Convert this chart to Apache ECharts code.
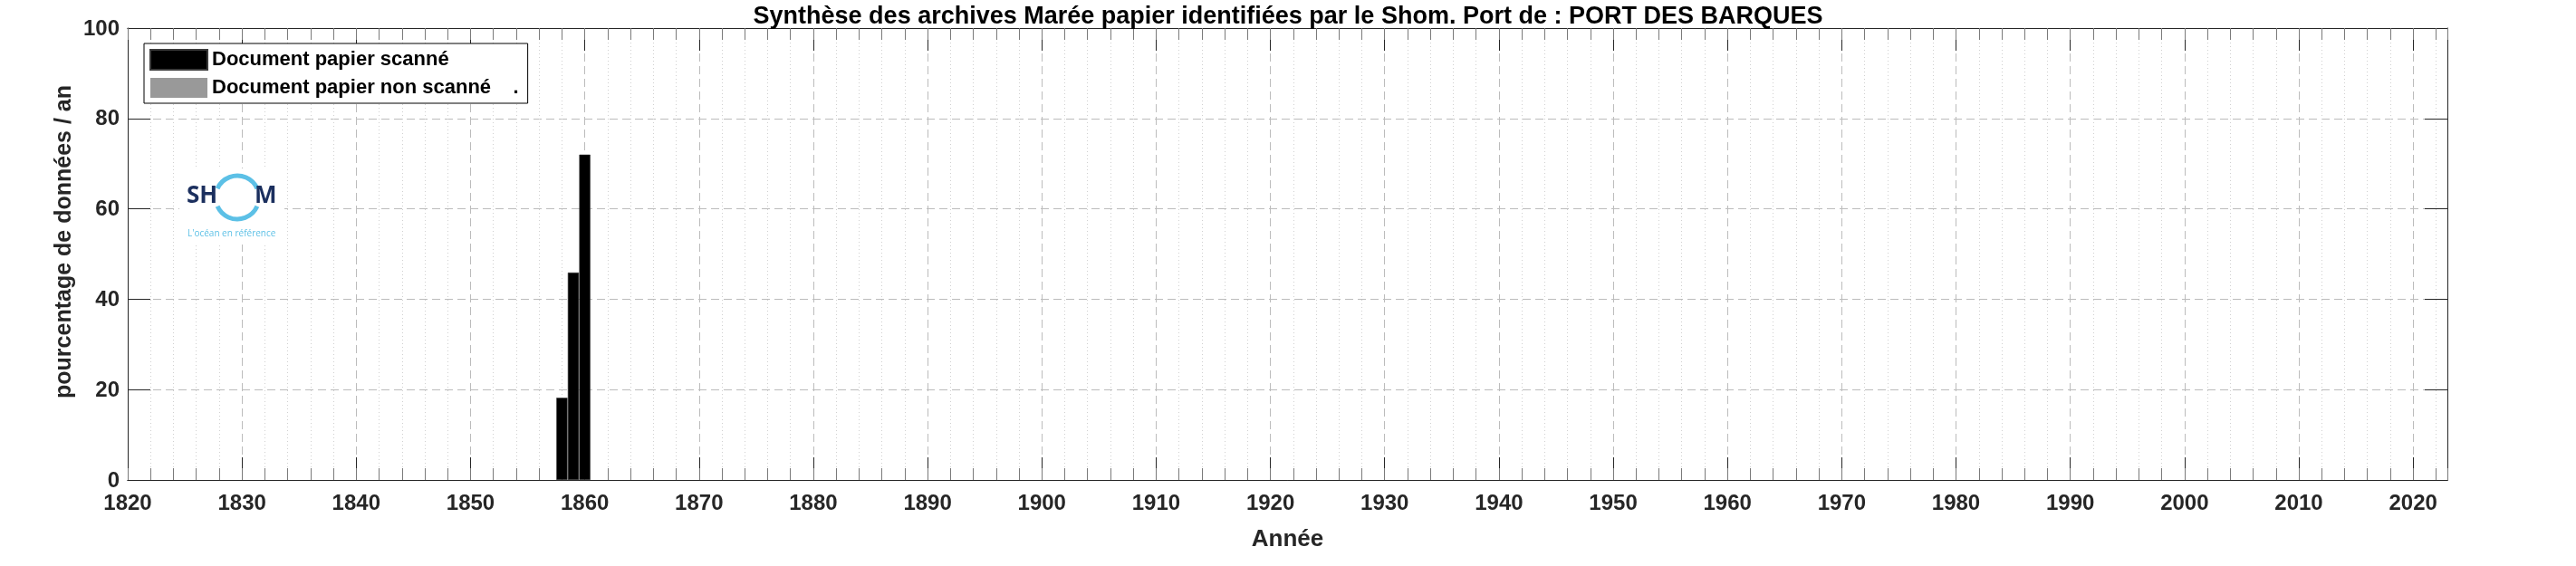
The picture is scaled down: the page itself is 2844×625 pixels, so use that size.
<!DOCTYPE html>
<html>
<head>
<meta charset="utf-8">
<script src="https://cdn.jsdelivr.net/npm/echarts@6/dist/echarts.min.js"></script>
<style>
html,body{margin:0;padding:0;background:#fff;}
#chart{width:2844px;height:625px;}
</style>
</head>
<body>
<div id="chart"></div>
<script>
// ---- data ----
const titleText = 'Synthèse des archives Marée papier identifiées par le Shom. Port de : PORT DES BARQUES';
const seriesNames = ['Document papier scanné', 'Document papier non scanné    .'];
const years = [1858, 1859, 1860];
const scanned = [18.2, 45.9, 72.0];
const nonScannedYears = [];
const nonScanned = [];
const xRange = [1820, 2023];
const yRange = [0, 100];
const yTickLabels = [0, 20, 40, 60, 80, 100];
const xLabelStep = 10;
const xMinorStep = 2;
const yStep = 20;
const xName = 'Année';
const yName = 'pourcentage de données / an';

const chart = echarts.init(document.getElementById('chart'), null, {renderer: 'canvas'});
const FONT = 'Liberation Sans, Arial, sans-serif';
const TXT = '#262626';

function xAxisBase(pos, step, major, showLabel, split) {
  return {
    type: 'value', position: pos, min: xRange[0], max: xRange[1], interval: step,
    axisLine: {show: true, onZero: false, lineStyle: {color: TXT, width: 1}},
    axisTick: {show: true, inside: true, length: major ? 25 : 13,
      lineStyle: {color: major ? TXT : '#7a7a7a', width: 1}},
    axisLabel: {show: showLabel, margin: 14, fontSize: 24, fontWeight: 'bold', color: TXT,
      fontFamily: FONT, showMaxLabel: false,
      formatter: v => (v % xLabelStep === 0 ? String(v) : '')},
    splitLine: split,
    name: showLabel ? xName : '', nameLocation: 'middle', nameGap: 53,
    nameTextStyle: {fontSize: 26, fontWeight: 'bold', color: TXT, fontFamily: FONT}
  };
}

const baseGraphics = [
  {type: 'text', x: 71, y: 267, rotation: Math.PI / 2,
    style: {text: yName, align: 'center', verticalAlign: 'middle',
      font: 'bold 25px "Liberation Sans", Arial, sans-serif', fill: TXT}},
  {type: 'rect', left: 198, top: 186, shape: {width: 116, height: 84}, style: {fill: '#fff'}, z: 5},
  {type: 'arc', z: 6, shape: {cx: 262, cy: 218, r: 24, startAngle: Math.PI + 0.42, endAngle: 2 * Math.PI - 0.42},
    style: {stroke: '#5cc0e6', lineWidth: 5, fill: null}},
  {type: 'arc', z: 6, shape: {cx: 262, cy: 218, r: 24, startAngle: 0.42, endAngle: Math.PI - 0.42},
    style: {stroke: '#5cc0e6', lineWidth: 5, fill: null}},
  {type: 'text', z: 7, left: 206, top: 204,
    style: {text: 'SH', font: 'bold 26px "Open Sans", sans-serif', fill: '#1b2f5e'}},
  {type: 'text', z: 7, left: 281, top: 204,
    style: {text: 'M', font: 'bold 26px "Open Sans", sans-serif', fill: '#1b2f5e'}},
  {type: 'text', z: 7, left: 207, top: 253,
    style: {text: "L'océan en référence", font: '10px "Open Sans", sans-serif', fill: '#5cc0e6'}}
];

const option = {
  backgroundColor: '#fff',
  animation: false,
  title: {
    text: titleText, left: 'center', top: 0,
    textStyle: {fontSize: 27, fontWeight: 'bold', color: '#000', fontFamily: FONT}
  },
  grid: {left: 141, right: 142, top: 31, bottom: 95, containLabel: false},
  legend: {
    data: seriesNames, orient: 'vertical', left: 159, top: 48,
    itemWidth: 63, itemHeight: 22, itemGap: 8, icon: 'rect',
    padding: [6, 10, 6, 6],
    borderColor: '#000', borderWidth: 1, backgroundColor: '#fff',
    textStyle: {fontSize: 22, fontWeight: 'bold', color: '#000', fontFamily: FONT},
    selectedMode: false
  },
  xAxis: [
    xAxisBase('bottom', xLabelStep, true, true,
      {show: true, lineStyle: {color: '#bcbcbc', type: [9, 5], width: 1}}),
    xAxisBase('top', xLabelStep, true, false, {show: false}),
    xAxisBase('bottom', xMinorStep, false, false,
      {show: true, lineStyle: {color: ['rgba(0,0,0,0)', '#d0d0d0', '#d0d0d0', '#d0d0d0', '#d0d0d0'], type: [1, 3], width: 1}}),
    xAxisBase('top', xMinorStep, false, false, {show: false})
  ],
  yAxis: [
    {
      type: 'value', position: 'left', min: yRange[0], max: yRange[1], interval: yStep,
      axisLine: {show: true, lineStyle: {color: TXT, width: 1}},
      axisTick: {show: true, inside: true, length: 25, lineStyle: {color: TXT}},
      axisLabel: {show: false},
      splitLine: {show: true, lineStyle: {color: '#bcbcbc', type: [9, 5], width: 1}}
    },
    {
      type: 'value', position: 'right', min: yRange[0], max: yRange[1], interval: yStep,
      axisLine: {show: true, lineStyle: {color: TXT, width: 1}},
      axisTick: {show: true, inside: true, length: 25, lineStyle: {color: TXT}},
      axisLabel: {show: false},
      splitLine: {show: false}
    }
  ],
  series: [
    {
      name: seriesNames[0], type: 'bar', stack: 'all', xAxisIndex: 0, yAxisIndex: 0,
      barWidth: 12.3,
      itemStyle: {color: '#000', borderColor: '#3a3a3a', borderWidth: 0.6},
      data: years.map((y, i) => [y, scanned[i]])
    },
    {
      name: seriesNames[1], type: 'bar', stack: 'all', xAxisIndex: 0, yAxisIndex: 0,
      barWidth: 12.3,
      itemStyle: {color: '#999999'},
      data: nonScannedYears.map((y, i) => [y, nonScanned[i]])
    }
  ],
  graphic: baseGraphics
};
chart.setOption(option);

// y tick labels positioned through the library's own y scale
const axisX = chart.convertToPixel({xAxisIndex: 0}, xRange[0]);
const labelGraphics = yTickLabels.map(v => ({
  type: 'text', z: 8,
  x: axisX - 9,
  y: chart.convertToPixel({yAxisIndex: 0}, v) + 1,
  style: {text: String(v), align: 'right', verticalAlign: 'middle',
    font: 'bold 24px "Liberation Sans", Arial, sans-serif', fill: TXT}
}));
chart.setOption({graphic: baseGraphics.concat(labelGraphics)});
</script>
</body>
</html>
